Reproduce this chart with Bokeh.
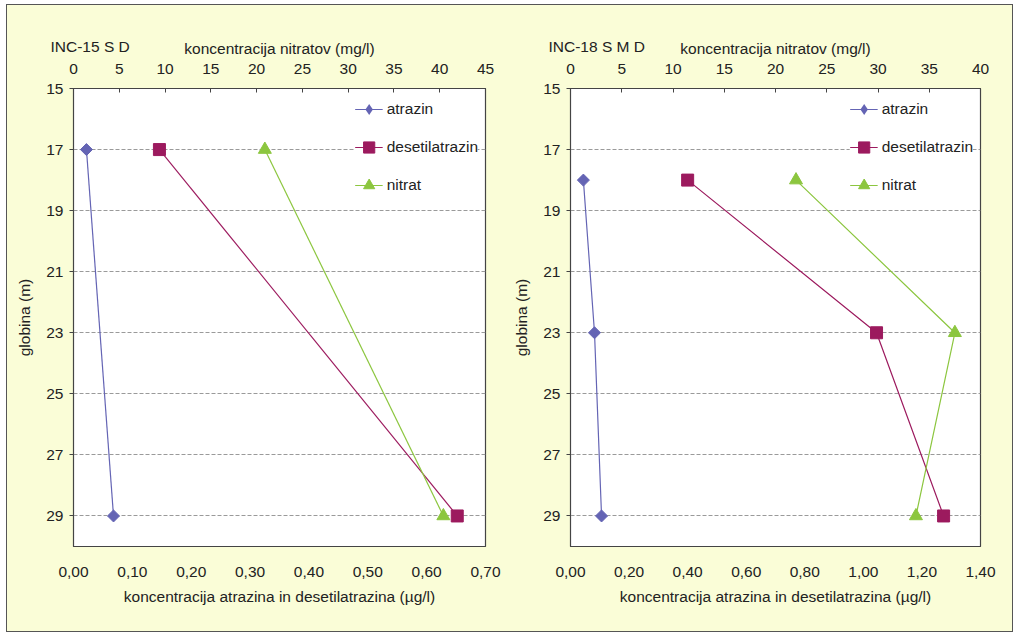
import numpy as np
from bokeh.plotting import figure
from bokeh.layouts import row
from bokeh.models import (Range1d, LinearAxis, FixedTicker, Legend, LegendItem,
                          CustomJSTickFormatter, Title, ColumnDataSource)
from bokeh.embed import file_html
from bokeh.resources import INLINE

# ---------------- data ----------------
titles = ["INC-15 S D", "INC-18 S M D"]

depth_L = [17, 29]
atrazin_L = [0.022, 0.068]
desetil_L = [0.146, 0.652]
nitrat_L = [20.9, 40.4]

depth_R = [18, 23, 29]
atrazin_R = [0.044, 0.082, 0.106]
desetil_R = [0.40, 1.045, 1.274]
nitrat_R = [22.0, 37.5, 33.7]

y_ticks = [15, 17, 19, 21, 23, 25, 27, 29]
x_ticks_L = [0.0, 0.1, 0.2, 0.3, 0.4, 0.5, 0.6, 0.7]
x_ticks_R = [0.0, 0.2, 0.4, 0.6, 0.8, 1.0, 1.2, 1.4]
top_ticks_L = [0, 5, 10, 15, 20, 25, 30, 35, 40, 45]
top_ticks_R = [0, 5, 10, 15, 20, 25, 30, 35, 40]

series_names = ["atrazin", "desetilatrazin", "nitrat"]
colors = ["#6464B4", "#9C1A5E", "#8CC63F"]

FONT = "Liberation Sans"
FS = "15.5px"
TXT = "#222222"
BG = "#FAFDD7"


def make_panel(title, depth, atr, des, nit, xmax, xticks, topmax, topticks,
               width, mb_left, mb_right, title_offset):
    p = figure(width=width, height=626, output_backend="svg", toolbar_location=None,
               x_range=Range1d(0, xmax), y_range=Range1d(30, 15),
               min_border_left=mb_left, min_border_right=mb_right,
               min_border_top=83, min_border_bottom=85,
               background_fill_color="white", border_fill_color=BG,
               outline_line_color="#444444", outline_line_width=1.2)
    p.extra_x_ranges = {"nit": Range1d(0, topmax)}

    xa = p.xaxis[0]
    xa.ticker = FixedTicker(ticks=xticks)
    xa.formatter = CustomJSTickFormatter(code="return tick.toFixed(2).replace('.', ',');")
    xa.major_tick_in = 0
    xa.major_tick_out = 0
    xa.minor_tick_line_color = None
    xa.axis_line_color = "#444444"
    xa.major_label_standoff = 20
    xa.axis_label = "koncentracija atrazina in desetilatrazina (µg/l)"
    xa.axis_label_standoff = 8

    ya = p.yaxis[0]
    ya.ticker = FixedTicker(ticks=y_ticks)
    ya.major_tick_in = 0
    ya.major_tick_out = 4
    ya.minor_tick_line_color = None
    ya.axis_line_color = "#444444"
    ya.major_tick_line_color = "#444444"
    ya.major_label_standoff = 6
    ya.axis_label = "globina (m)"
    ya.axis_label_standoff = 10

    ta = LinearAxis(x_range_name="nit", ticker=FixedTicker(ticks=topticks),
                    axis_label="koncentracija nitratov (mg/l)")
    ta.major_tick_in = 4
    ta.major_tick_out = 0
    ta.minor_tick_line_color = None
    ta.axis_line_color = "#444444"
    ta.major_tick_line_color = "#444444"
    ta.major_label_standoff = 15
    ta.axis_label_standoff = 4
    p.add_layout(ta, "above")

    for ax in [xa, ya, ta]:
        ax.major_label_text_font = FONT
        ax.major_label_text_font_size = FS
        ax.major_label_text_color = TXT
        ax.axis_label_text_font = FONT
        ax.axis_label_text_font_size = FS
        ax.axis_label_text_font_style = "normal"
        ax.axis_label_text_color = TXT

    p.xgrid.grid_line_color = None
    p.ygrid.ticker = FixedTicker(ticks=y_ticks)
    p.ygrid.grid_line_color = "#9a9a9a"
    p.ygrid.grid_line_dash = "4 2"
    p.ygrid.grid_line_width = 1

    sa = ColumnDataSource(dict(x=atr, y=depth))
    sd = ColumnDataSource(dict(x=des, y=depth))
    sn = ColumnDataSource(dict(x=nit, y=depth))

    la = p.line("x", "y", source=sa, line_color=colors[0], line_width=1.2)
    p.scatter("x", "y", source=sa, marker="square", angle=np.pi / 4, size=8.5,
              fill_color=colors[0], line_color=colors[0])
    # legend key for the diamond: zero size in the plot, drawn only by the legend
    ma_key = p.scatter("x", "y", source=sa, marker="diamond", size=0,
                       fill_color=colors[0], line_color=colors[0], line_width=0)
    ld = p.line("x", "y", source=sd, line_color=colors[1], line_width=1.2)
    md = p.scatter("x", "y", source=sd, marker="square", size=12,
                   fill_color=colors[1], line_color=colors[1])
    ln = p.line("x", "y", source=sn, line_color=colors[2], line_width=1.2,
                x_range_name="nit")
    mn = p.scatter("x", "y", source=sn, marker="triangle", size=13,
                   fill_color=colors[2], line_color=colors[2], x_range_name="nit")

    legend = Legend(items=[
        LegendItem(label=series_names[0], renderers=[la, ma_key]),
        LegendItem(label=series_names[1], renderers=[ld, md]),
        LegendItem(label=series_names[2], renderers=[ln, mn]),
    ], location="top_right")
    legend.glyph_width = 28
    legend.glyph_height = 28
    legend.label_height = 20
    legend.spacing = 10
    legend.padding = 5
    legend.margin = 7
    legend.label_standoff = 4
    legend.label_text_font = FONT
    legend.label_text_font_size = FS
    legend.label_text_color = TXT
    legend.background_fill_color = "white"
    legend.background_fill_alpha = 1.0
    legend.border_line_color = None
    p.add_layout(legend, "center")

    t = Title(text=title, align="left", offset=title_offset, standoff=-36,
              text_font=FONT, text_font_size=FS, text_color=TXT,
              text_font_style="normal")
    p.add_layout(t, "above")
    return p


p1 = make_panel(titles[0], depth_L, atrazin_L, desetil_L, nitrat_L,
                0.7, x_ticks_L, 45, top_ticks_L, 503, 66, 25, -23)
p2 = make_panel(titles[1], depth_R, atrazin_R, desetil_R, nitrat_R,
                1.4, x_ticks_R, 40, top_ticks_R, 502, 60, 32, -22)

lay = row(p1, p2, margin=(4, 0, 0, 6),
          styles={"border": "1px solid #555555", "background-color": BG})

open("out.html", "w").write(file_html(lay, INLINE))
